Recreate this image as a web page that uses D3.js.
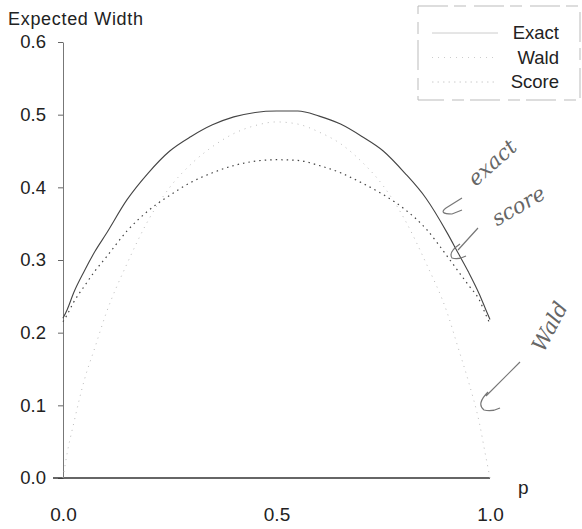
<!DOCTYPE html>
<html>
<head>
<meta charset="utf-8">
<script src="https://cdn.jsdelivr.net/npm/d3@7"></script>
<style>
  body { margin: 0; background: #fff; }
  svg { display: block; font-family: "Liberation Sans", Arial, sans-serif; }
</style>
</head>
<body>
<svg id="chart"></svg>
<script>
// Dimensions de la figure
const width = 582,
  height = 529;

// Valeurs de p (abscisse)
const pValues = [0, 0.01, 0.025, 0.05, 0.075, 0.1, 0.15, 0.2, 0.25, 0.3, 0.35, 0.4, 0.45, 0.5,
  0.55, 0.6, 0.65, 0.7, 0.75, 0.8, 0.85, 0.9, 0.925, 0.95, 0.975, 0.99, 1];

// Largeur attendue
const exactWidth = [0.22, 0.232, 0.255, 0.285, 0.312, 0.335, 0.383, 0.42, 0.45, 0.47, 0.486, 0.497, 0.503, 0.505,
  0.505, 0.498, 0.487, 0.47, 0.45, 0.42, 0.385, 0.337, 0.31, 0.283, 0.253, 0.232, 0.218];
const waldWidth = [0, 0.035, 0.075, 0.135, 0.18, 0.225, 0.295, 0.355, 0.4, 0.432, 0.456, 0.474, 0.485, 0.49,
  0.487, 0.476, 0.46, 0.435, 0.402, 0.356, 0.296, 0.227, 0.18, 0.132, 0.076, 0.03, 0];
const scoreWidth = [0.215, 0.225, 0.242, 0.264, 0.285, 0.303, 0.34, 0.368, 0.389, 0.407, 0.42, 0.43, 0.436, 0.438,
  0.437, 0.43, 0.42, 0.406, 0.39, 0.37, 0.343, 0.305, 0.285, 0.265, 0.245, 0.225, 0.212];

const seriesNames = ["Exact", "Wald", "Score"];
const xTicks = [0, 0.5, 1];
const yTicks = [0, 0.1, 0.2, 0.3, 0.4, 0.5, 0.6];

// Notes manuscrites sur la figure
const notes = ["exact", "score", "Wald"];

const svg = d3.select("#chart").attr("width", width).attr("height", height);

// Échelles
const x = d3.scaleLinear().domain([0, 1]).range([63, 490]);
const y = d3.scaleLinear().domain([0, 0.6]).range([478, 42]);

// Axe des ordonnées
const yAxis = svg
  .append("g")
  .attr("transform", `translate(${x(0)},0)`)
  .call(
    d3
      .axisLeft(y)
      .tickValues(yTicks)
      .tickFormat(d3.format(".1f"))
      .tickSize(5)
      .tickSizeOuter(0)
      .tickPadding(12)
  );
yAxis.select(".domain").attr("stroke", "#777");
yAxis.selectAll(".tick line").attr("stroke", "#666");
yAxis
  .selectAll(".tick text")
  .attr("font-size", 18.5)
  .attr("fill", "#222")
  .style("font-family", "Liberation Sans, Arial, sans-serif");

// Axe des abscisses (ligne seule + étiquettes)
const xAxis = svg
  .append("g")
  .attr("transform", `translate(0,${y(0)})`)
  .call(
    d3
      .axisBottom(x)
      .tickValues(xTicks)
      .tickFormat(d3.format(".1f"))
      .tickSize(0)
      .tickPadding(30)
  );
xAxis.select(".domain").remove();
xAxis
  .selectAll(".tick text")
  .attr("font-size", 19)
  .attr("fill", "#222")
  .style("font-family", "Liberation Sans, Arial, sans-serif");

svg
  .append("line")
  .attr("x1", 53)
  .attr("x2", x(1))
  .attr("y1", y(0))
  .attr("y2", y(0))
  .attr("stroke", "#333")
  .attr("stroke-width", 1.3);

// Titres des axes
svg
  .append("text")
  .attr("x", 8)
  .attr("y", 25)
  .attr("font-size", 18)
  .attr("fill", "#222")
  .attr("textLength", 135)
  .text("Expected Width");

svg
  .append("text")
  .attr("x", 518)
  .attr("y", 494)
  .attr("font-size", 19)
  .attr("fill", "#222")
  .text("p");

// Courbes
const styles = {
  Exact: { stroke: "#444", width: 1.1, dash: null },
  Wald: { stroke: "#bbb", width: 1, dash: "1,5" },
  Score: { stroke: "#444", width: 1.2, dash: "1.5,4" }
};
const seriesData = {
  Exact: exactWidth,
  Wald: waldWidth,
  Score: scoreWidth
};

const line = d3
  .line()
  .x((d, i) => x(pValues[i]))
  .y(d => y(d))
  .curve(d3.curveMonotoneX);

seriesNames.forEach(name => {
  svg
    .append("path")
    .datum(seriesData[name])
    .attr("fill", "none")
    .attr("stroke", styles[name].stroke)
    .attr("stroke-width", styles[name].width)
    .attr("stroke-dasharray", styles[name].dash)
    .attr("d", line);
});

// Légende
const legend = svg.append("g").attr("class", "legend");
legend
  .append("rect")
  .attr("x", 418)
  .attr("y", 6)
  .attr("width", 162)
  .attr("height", 94)
  .attr("fill", "none")
  .attr("stroke", "#bbb")
  .attr("stroke-dasharray", "30,6,12,8");

seriesNames.forEach((name, i) => {
  const ly = 39 + i * 24.5;
  legend
    .append("line")
    .attr("x1", 432)
    .attr("x2", 498)
    .attr("y1", ly - 6)
    .attr("y2", ly - 6)
    .attr("stroke", "#ccc")
    .attr("stroke-width", 1)
    .attr("stroke-dasharray", styles[name].dash);
  legend
    .append("text")
    .attr("x", 559)
    .attr("y", ly)
    .attr("text-anchor", "end")
    .attr("font-size", 18.5)
    .attr("fill", "#222")
    .text(name);
});

// Annotations manuscrites (texte + flèches)
const notePos = [
  { cx: 497, cy: 168, rot: -42 },
  { cx: 522, cy: 212, rot: -30 },
  { cx: 556, cy: 330, rot: -62 }
];
notes.forEach((t, i) => {
  svg
    .append("text")
    .attr("transform", `translate(${notePos[i].cx},${notePos[i].cy}) rotate(${notePos[i].rot})`)
    .attr("text-anchor", "middle")
    .attr("font-family", "DejaVu Serif, serif")
    .attr("font-style", "italic")
    .attr("font-size", 21)
    .attr("fill", "#666")
    .text(t);
});

const arrows = [
  "M462,198 L446,208 M446,208 Q438,214 452,214 L462,210",
  "M478,228 L458,250 M460,244 Q448,252 452,258 Q458,260 466,256",
  "M520,362 L486,396 M488,392 Q476,404 484,410 Q492,412 500,408"
];
svg
  .selectAll(".arrow")
  .data(arrows)
  .join("path")
  .attr("class", "arrow")
  .attr("d", d => d)
  .attr("fill", "none")
  .attr("stroke", "#777")
  .attr("stroke-width", 1.2);
</script>
</body>
</html>
